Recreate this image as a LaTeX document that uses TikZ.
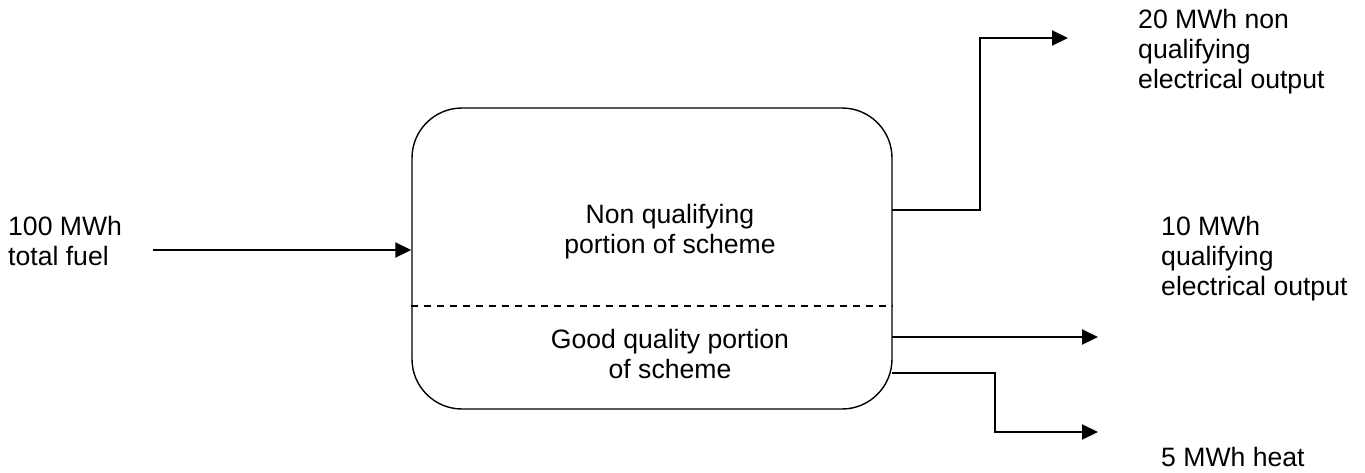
\documentclass[tikz,border=0pt]{standalone}
\usepackage{fontspec}
\setmainfont{Liberation Sans}
\usetikzlibrary{arrows.meta}

\begin{document}
\begin{tikzpicture}[x=1pt,y=-1pt,
    flow/.style={line width=2pt,-{Triangle[length=16pt,width=15pt]}},
    txt/.style={font=\fontsize{26.6}{30}\selectfont,inner sep=0pt}]
    \useasboundingbox (0,0) rectangle (1365,472);

    % The scheme itself:
    % one rounded box, cut in two by a dashed line
    \node[draw,line width=1.4pt,rounded corners=50pt,minimum width=480pt,minimum height=301pt] (scheme) at (652,258.5) {};
    \coordinate (cut) at (0,306);
    \draw[line width=1.2pt,dash pattern=on 7pt off 6pt] (scheme.west |- cut) -- (scheme.east |- cut);

    \node[txt,anchor=north,align=center] (nonqual) at (670,204) {Non qualifying\\portion of scheme};
    \node[txt,anchor=north,align=center] (goodqual) at (670,329) {Good quality portion\\of scheme};

    % Labels of the flows
    \node[txt,anchor=north west,align=left] (fuel) at (8,216) {100 MWh\\total fuel};
    \node[txt,anchor=north west,align=left] (nqpower) at (1138,9) {20 MWh non\\qualifying\\electrical output};
    \node[txt,anchor=north west,align=left] (qpower) at (1161,216) {10 MWh\\qualifying\\electrical output};
    \node[txt,anchor=north west,align=left] (qheat) at (1161,447) {5 MWh heat};

    % Arrows in and out
    \coordinate (fuelin) at (153,250);
    \draw[flow] (fuelin) -- (fuelin -| scheme.west);

    \coordinate (nqout) at (892,210);
    \coordinate (nqturn) at (980,38);
    \coordinate (nqend) at (1068,38);
    \draw[flow] (nqout) -| (nqturn) -- (nqend);

    \coordinate (qout) at (892,337);
    \coordinate (qend) at (1098,337);
    \draw[flow] (qout) -- (qend);

    \coordinate (heatout) at (892,373);
    \coordinate (heatturn) at (995,432);
    \coordinate (heatend) at (1098,432);
    \draw[flow] (heatout) -| (heatturn) -- (heatend);
\end{tikzpicture}
\end{document}
